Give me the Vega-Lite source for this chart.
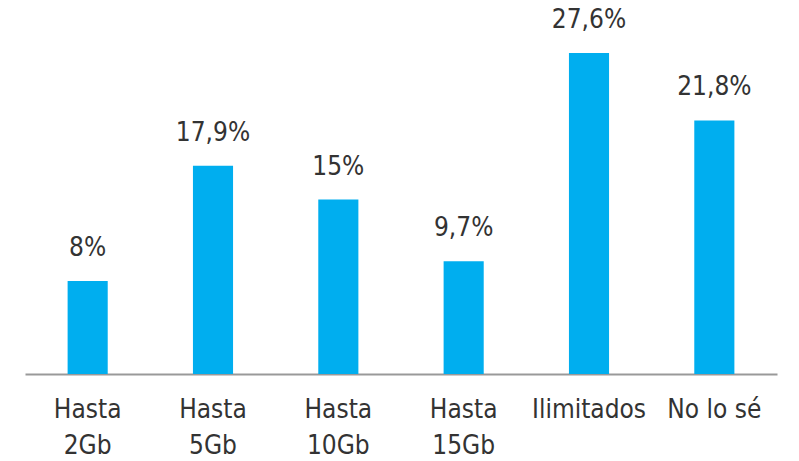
{
  "$schema": "https://vega.github.io/schema/vega-lite/v6.json",
  "autosize": {"type": "none"},
  "width": 752,
  "height": 349,
  "padding": {"left": 25, "top": 25, "right": 22, "bottom": 87},
  "background": "white",
  "config": {"view": {"stroke": null}, "font": "DejaVu Sans Condensed, Roboto"},
  "data": {"values": [
    {"cat": "Hasta|2Gb", "value": 8, "label": "8%"},
    {"cat": "Hasta|5Gb", "value": 17.9, "label": "17,9%"},
    {"cat": "Hasta|10Gb", "value": 15, "label": "15%"},
    {"cat": "Hasta|15Gb", "value": 9.7, "label": "9,7%"},
    {"cat": "Ilimitados", "value": 27.6, "label": "27,6%"},
    {"cat": "No lo sé", "value": 21.8, "label": "21,8%"}
  ]},
  "encoding": {
    "x": {"field": "cat", "type": "nominal", "sort": null,
      "scale": {"paddingInner": 0.68, "paddingOuter": 0.34},
      "axis": {"title": null, "labelAngle": 0, "ticks": false, "domainColor": "#999999", "domainWidth": 2,
        "labelExpr": "split(datum.value, '|')", "labelFontSize": 26, "labelColor": "#333333",
        "labelPadding": 22, "labelLineHeight": 36, "labelFont": "DejaVu Sans Condensed, Roboto"}},
    "y": {"field": "value", "type": "quantitative", "scale": {"domain": [0, 30]}, "axis": null}
  },
  "layer": [
    {"mark": {"type": "bar", "color": "#00AEEF"}},
    {"mark": {"type": "text", "baseline": "bottom", "dy": -20, "fontSize": 26, "color": "#333333", "font": "DejaVu Sans Condensed, Roboto"},
     "encoding": {"text": {"field": "label"}}}
  ]
}
